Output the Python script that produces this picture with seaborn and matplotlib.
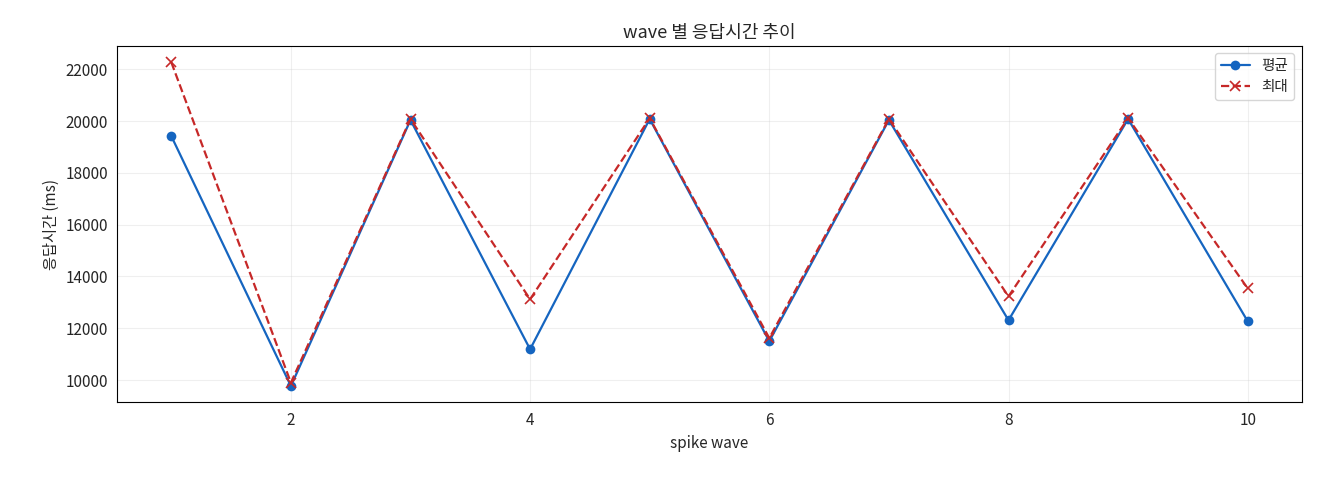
import matplotlib
matplotlib.use("Agg")
import matplotlib.pyplot as plt
import seaborn as sns
import pandas as pd

sns.set_style("white")
plt.rcParams['font.family'] = ['Noto Sans CJK KR', 'DejaVu Sans']

waves = [1, 2, 3, 4, 5, 6, 7, 8, 9, 10]
avg_ms = [19420, 9770, 20040, 11190, 20080, 11500, 20040, 12310, 20080, 12270]
max_ms = [22270, 9900, 20080, 13120, 20110, 11620, 20080, 13230, 20110, 13540]

df = pd.DataFrame({'wave': waves, 'avg': avg_ms, 'max': max_ms})

fig, ax = plt.subplots(figsize=(13.2, 4.8), dpi=100)
sns.lineplot(data=df, x='wave', y='avg', ax=ax, color='#1565c0', marker='o',
             markersize=7, markeredgewidth=0, linewidth=1.6, label='평균')
sns.lineplot(data=df, x='wave', y='max', ax=ax, color='#c62828', marker='x',
             markersize=7, markeredgecolor='#c62828', markeredgewidth=1.2,
             linestyle='--', linewidth=1.6, label='최대')

ax.set_title('wave 별 응답시간 추이', fontsize=13)
ax.set_xlabel('spike wave', fontsize=11)
ax.set_ylabel('응답시간 (ms)', fontsize=11)
ax.set_xticks([2, 4, 6, 8, 10])
ax.tick_params(labelsize=11)
ax.grid(True, alpha=0.3)
for s in ax.spines.values():
    s.set_color('black')
ax.legend(loc='upper right', fontsize=10.5)

fig.subplots_adjust(left=0.089, right=0.986, top=0.904, bottom=0.162)
plt.savefig('out.png', facecolor='white')
